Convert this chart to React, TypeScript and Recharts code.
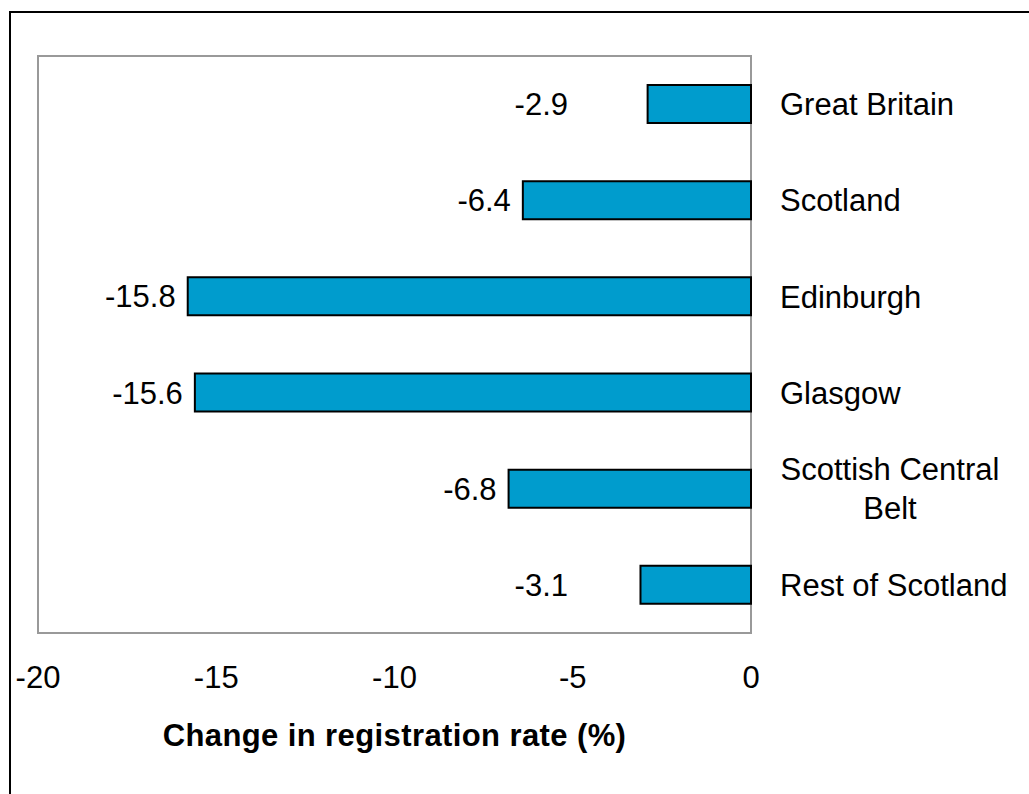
import { BarChart, Bar, XAxis, YAxis, ReferenceArea, LabelList } from 'recharts';

const regions = [
  ['Great Britain'],
  ['Scotland'],
  ['Edinburgh'],
  ['Glasgow'],
  ['Scottish Central', 'Belt'],
  ['Rest of Scotland'],
];
const changes = [-2.9, -6.4, -15.8, -15.6, -6.8, -3.1];
const xTicks = [-20, -15, -10, -5, 0];

const data = regions.map((lines, i) => ({ name: lines.join(' '), lines, value: changes[i] }));

const FONT = '"Liberation Sans", Arial, sans-serif';
const FS = 31;

const RegionTick = (props: any) => {
  const { x, y, index } = props;
  const lines = data[index].lines;
  if (lines.length === 1) {
    return (
      <text x={x} y={y} dy="0.36em" textAnchor="start" fontFamily={FONT} fontSize={FS} fill="#000">
        {lines[0]}
      </text>
    );
  }
  return (
    <g>
      {lines.map((l: string, i: number) => (
        <text
          key={i}
          x={x + 110}
          y={y + (i - (lines.length - 1) / 2) * 39}
          dy="0.36em"
          textAnchor="middle"
          fontFamily={FONT}
          fontSize={FS}
          fill="#000"
        >
          {l}
        </text>
      ))}
    </g>
  );
};

const ValueLabel = (props: any) => {
  const { x, y, width, height, value } = props;
  const left = Math.min(x, x + width);
  // small bars keep their label a bit further out, as in the original
  const right = Math.min(left - 12, 568);
  return (
    <text x={right} y={y + height / 2} dy="0.36em" textAnchor="end" fontFamily={FONT} fontSize={FS} fill="#000">
      {value.toFixed(1)}
    </text>
  );
};

export default function App() {
  return (
    <div style={{ position: 'absolute', left: 0, top: 0, width: 1029, height: 794, overflow: 'hidden', background: '#fff' }}>
      <div
        style={{
          position: 'absolute',
          left: 9,
          top: 11,
          width: 1100,
          height: 900,
          border: '2px solid #000',
          boxSizing: 'border-box',
        }}
      />
      <div style={{ position: 'absolute', left: 0, top: 0 }}>
        <BarChart
          width={1029}
          height={794}
          data={data}
          layout="vertical"
          margin={{ top: 56, right: 0, bottom: 41, left: 38 }}
        >
          <XAxis
            type="number"
            domain={[-20, 0]}
            ticks={xTicks}
            axisLine={false}
            tickLine={false}
            tickMargin={27}
            height={120}
            tick={{ fontFamily: FONT, fontSize: FS, fill: '#000' }}
            label={{
              value: 'Change in registration rate (%)',
              position: 'insideBottom',
              offset: 7,
              style: { fontFamily: FONT, fontSize: FS, fontWeight: 'bold', fill: '#000', letterSpacing: 0.4 },
            }}
          />
          <YAxis
            type="category"
            dataKey="name"
            orientation="right"
            width={278}
            axisLine={false}
            tickLine={false}
            tickMargin={23}
            tick={<RegionTick />}
          />
          <ReferenceArea x1={-20} x2={0} fill="none" stroke="#999" strokeWidth={2} ifOverflow="visible" />
          <Bar dataKey="value" fill="#009ccd" stroke="#000" strokeWidth={2} barSize={38} isAnimationActive={false}>
            <LabelList dataKey="value" content={<ValueLabel />} />
          </Bar>
        </BarChart>
      </div>
    </div>
  );
}
